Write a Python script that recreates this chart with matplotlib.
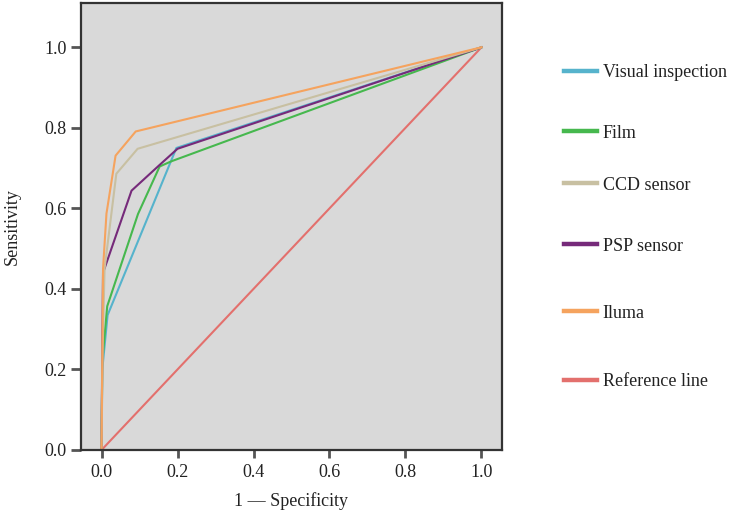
import matplotlib
matplotlib.use("Agg")
import matplotlib.pyplot as plt
from matplotlib.lines import Line2D

plt.rcParams['font.family'] = ['Liberation Serif', 'DejaVu Serif']

# ROC curve data (1 - specificity, sensitivity)
visual_x = [0.0, 0.002, 0.016, 0.18, 0.197, 1.0]
visual_y = [0.0, 0.20, 0.335, 0.711, 0.75, 1.0]
film_x = [0.0, 0.002, 0.015, 0.096, 0.153, 0.184, 1.0]
film_y = [0.0, 0.22, 0.357, 0.586, 0.704, 0.717, 1.0]
ccd_x = [0.0, 0.003, 0.008, 0.039, 0.095, 1.0]
ccd_y = [0.0, 0.25, 0.45, 0.686, 0.748, 1.0]
psp_x = [0.0, 0.002, 0.004, 0.079, 0.153, 0.2, 1.0]
psp_y = [0.0, 0.25, 0.44, 0.644, 0.708, 0.748, 1.0]
iluma_x = [0.0, 0.004, 0.013, 0.037, 0.09, 1.0]
iluma_y = [0.0, 0.45, 0.587, 0.731, 0.791, 1.0]
ref_x = [0.0, 1.0]
ref_y = [0.0, 1.0]

labels = ["Visual inspection", "Film", "CCD sensor", "PSP sensor", "Iluma", "Reference line"]
colors = ["#56b3cc", "#46b84e", "#c8c0a2", "#762a7a", "#f5a35e", "#e3706d"]
xticks = [0.0, 0.2, 0.4, 0.6, 0.8, 1.0]
yticks = [0.0, 0.2, 0.4, 0.6, 0.8, 1.0]

fig = plt.figure(figsize=(7.32, 5.14), dpi=100)
ax = fig.add_axes([81/732, 1 - 450/514, (502-81)/732, (450-3)/514])
ax.set_facecolor("#d9d9d9")

series = [(visual_x, visual_y), (film_x, film_y), (ccd_x, ccd_y),
          (psp_x, psp_y), (iluma_x, iluma_y), (ref_x, ref_y)]
order = [5, 0, 1, 3, 2, 4]
for i in order:
    xs, ys = series[i]
    ax.plot(xs, ys, color=colors[i], lw=1.5, label=labels[i])

ax.set_xlim(-0.054, 1.054)
ax.set_ylim(0.0, 1.11)
ax.set_xticks(xticks)
ax.set_yticks(yticks)
ax.set_xticklabels([f"{t:.1f}" for t in xticks])
ax.set_yticklabels([f"{t:.1f}" for t in yticks])
ax.tick_params(axis='y', direction='out', length=7.2, width=2, color='#555555',
               labelsize=13, labelcolor='#222222', pad=3)
ax.tick_params(axis='x', direction='out', length=6, width=2, color='#555555',
               labelsize=13, labelcolor='#222222', pad=4)
for sp in ax.spines.values():
    sp.set_color('#333333')
    sp.set_linewidth(1.6)

ax.set_xlabel("1 — Specificity", fontsize=13, labelpad=8, color='#222222')
ax.set_ylabel("Sensitivity", fontsize=13, labelpad=17, color='#222222')

# legend entries placed individually (uneven spacing as in reference)
leg_y = [73, 133, 185, 246, 313, 382]
for lab, c, yy in zip(labels, colors, leg_y):
    h = Line2D([0], [0], color=c, lw=3.2)
    lg = fig.legend([h], [lab], loc='center left',
                    bbox_to_anchor=(564/732, 1 - yy/514), frameon=False,
                    fontsize=13, handlelength=1.85, handletextpad=0.3,
                    borderpad=0, borderaxespad=0)
    for t in lg.get_texts():
        t.set_color('#222222')

fig.savefig("out.png", dpi=100)
